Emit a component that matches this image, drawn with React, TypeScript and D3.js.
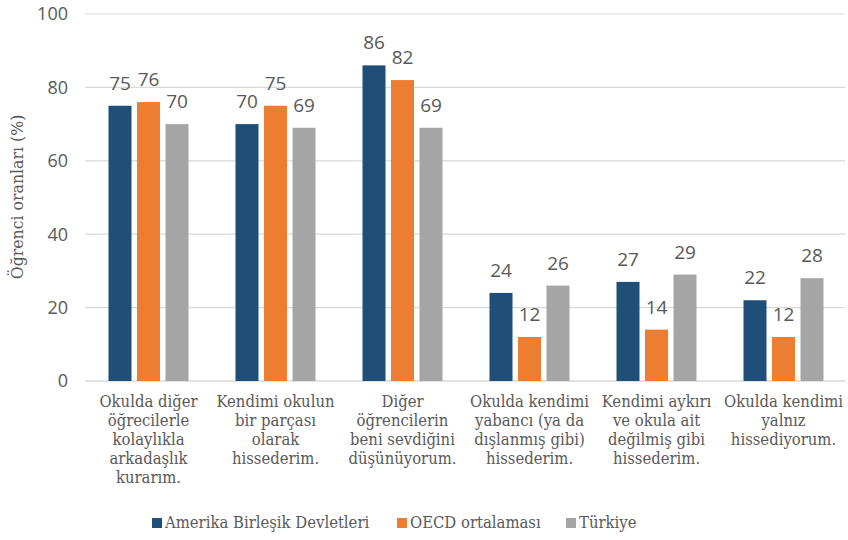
import React from "react";
import * as d3 from "d3";

const categories: string[][] = [
  ["Okulda diğer", "öğrecilerle", "kolaylıkla", "arkadaşlık", "kurarım."],
  ["Kendimi okulun", "bir parçası", "olarak", "hissederim."],
  ["Diğer", "öğrencilerin", "beni sevdiğini", "düşünüyorum."],
  ["Okulda kendimi", "yabancı (ya da", "dışlanmış gibi)", "hissederim."],
  ["Kendimi aykırı", "ve okula ait", "değilmiş gibi", "hissederim."],
  ["Okulda kendimi", "yalnız", "hissediyorum."],
];
const seriesNames = ["Amerika Birleşik Devletleri", "OECD ortalaması", "Türkiye"];
const usValues = [75, 70, 86, 24, 27, 22];
const oecdValues = [76, 75, 82, 12, 14, 12];
const trValues = [70, 69, 69, 26, 29, 28];
const yTicks = [0, 20, 40, 60, 80, 100];
const colors = ["#1F4E79", "#ED7D31", "#A5A5A5"];

const W = 848, H = 540;
const left = 85, right = 847, top = 14, bottom = 381;
const serif = "'DejaVu Serif', serif";
const sans = "'Open Sans', sans-serif";

export default function App() {
  const series = [usValues, oecdValues, trValues];
  const x = d3.scaleBand<number>().domain(d3.range(categories.length)).range([left, right]);
  const y = d3.scaleLinear().domain([0, 100]).range([bottom, top]);
  const bw = 23, step = 28.5;
  const legendItems = [
    { x: 152, name: seriesNames[0] },
    { x: 397, name: seriesNames[1] },
    { x: 566, name: seriesNames[2] },
  ];
  return (
    <svg width={W} height={H} style={{ position: "absolute", left: 0, top: 0, background: "#fff" }}>
      {yTicks.map((t) => (
        <g key={t}>
          <line x1={left} x2={right - 2} y1={y(t)} y2={y(t)} stroke="#D9D9D9" strokeWidth={t === 0 ? 1.5 : 1.2} />
          <text x={68} y={y(t)} dy="0.35em" textAnchor="end" fontFamily={sans} fontSize={18} fill="#595959">{t}</text>
        </g>
      ))}
      <text transform={`translate(23,197) rotate(-90)`} textAnchor="middle" fontFamily={serif} fontSize={17.5} fill="#595959" style={{ fontStretch: "condensed" }}>Öğrenci oranları (%)</text>
      {categories.map((c, i) => {
        const cx = (x(i) as number) + x.bandwidth() / 2;
        return (
          <g key={i}>
            {series.map((s, j) => {
              const bx = cx + (j - 1) * step - bw / 2;
              return (
                <g key={j}>
                  <rect x={bx} y={y(s[i])} width={bw} height={y(0) - y(s[i])} fill={colors[j]} />
                  <text x={bx + bw / 2} y={y(s[i]) - 16} textAnchor="middle" fontFamily={sans} fontSize={19} fill="#595959">{s[i]}</text>
                </g>
              );
            })}
            {c.map((line, k) => (
              <text key={k} x={cx} y={407 + k * 19} textAnchor="middle" fontFamily={serif} fontSize={16.5} fill="#595959" style={{ fontStretch: "condensed" }}>{line}</text>
            ))}
          </g>
        );
      })}
      {legendItems.map((l, j) => (
        <g key={j}>
          <rect x={l.x} y={518} width={10} height={10} fill={colors[j]} />
          <text x={l.x + 13} y={528} fontFamily={serif} fontSize={16.5} fill="#595959" style={{ fontStretch: "condensed" }}>{l.name}</text>
        </g>
      ))}
    </svg>
  );
}
